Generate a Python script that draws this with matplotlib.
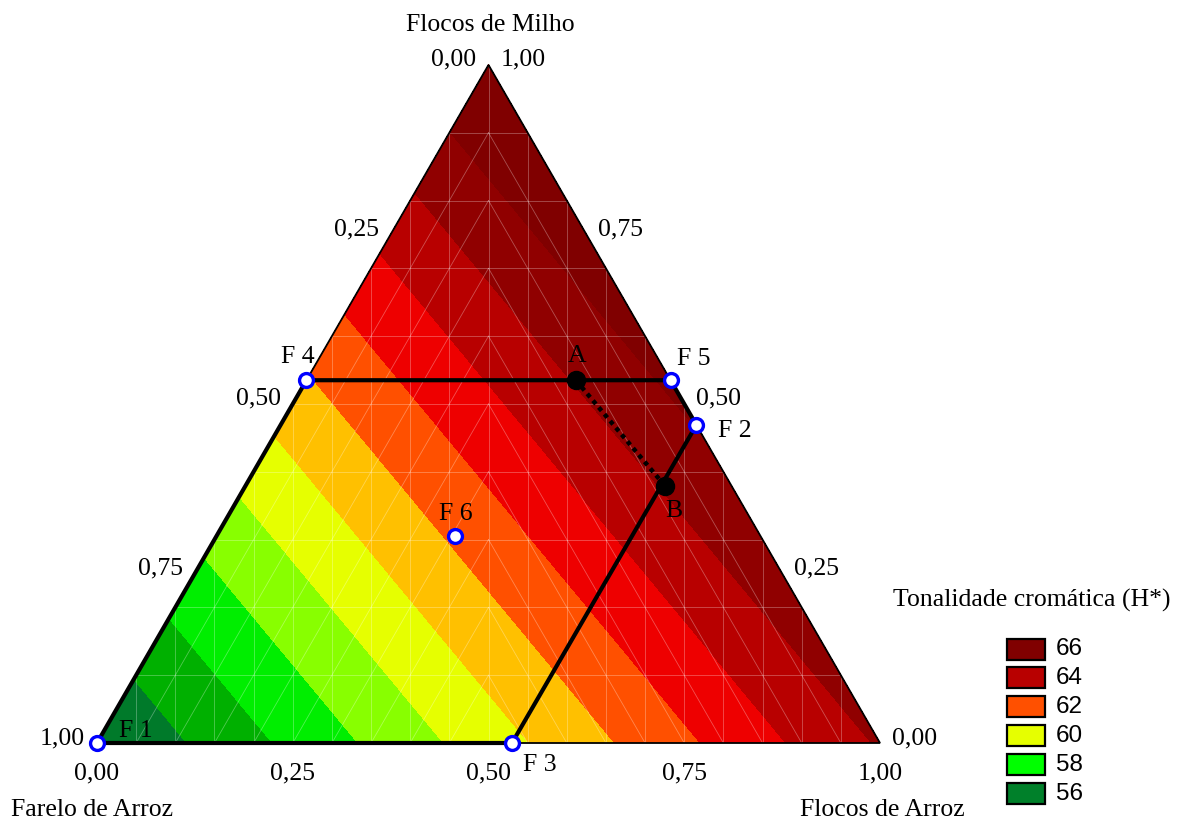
import matplotlib
matplotlib.use('Agg')
import matplotlib.pyplot as plt
import matplotlib.tri as mtri
import numpy as np
from matplotlib.patches import Polygon, Rectangle

# ---------------- data ----------------
# H* values at the pure components (Farelo de Arroz, Flocos de Arroz, Flocos de Milho)
vertex_values = [55.95, 65.10, 67.10]
contour_levels = [55, 57, 58, 59, 60, 61, 62, 63, 64, 65, 66, 68]
band_colors = ['#007A2A', '#00B000', '#00EE00', '#88FF00', '#E6FF00', '#FFC000',
               '#FF5000', '#EE0000', '#B80000', '#900000', '#800000']

legend_values = [66, 64, 62, 60, 58, 56]
legend_colors = ['#800000', '#B80000', '#FF5000', '#E6FF00', '#00FF00', '#00802A']
legend_title = 'Tonalidade cromática (H*)'

tick_values = [0.0, 0.25, 0.50, 0.75, 1.00]
tick_labels = ['0,00', '0,25', '0,50', '0,75', '1,00']

axis_farelo = 'Farelo de Arroz'
axis_flocos_arroz = 'Flocos de Arroz'
axis_flocos_milho = 'Flocos de Milho'

# design points (fractions)
point_names = ['F 1', 'F 2', 'F 3', 'F 4', 'F 5', 'F 6']
point_flocos_arroz = [0.000, 0.531, 0.530, 0.000, 0.465, 0.304]
point_flocos_milho = [0.000, 0.469, 0.000, 0.535, 0.535, 0.306]

# optimum segment points
opt_names = ['A', 'B']
opt_flocos_arroz = [0.344, 0.536]
opt_flocos_milho = [0.535, 0.379]

# experimental region polygon order (indices into design points)
region_order = [0, 3, 4, 1, 2, 0]

# ---------------- geometry helpers ----------------
H = np.sqrt(3) / 2
PX = 783.0  # pixels per unit
X0, Y0 = 97.0, 743.0


def tern(fa, fm):
    fa = np.asarray(fa, float)
    fm = np.asarray(fm, float)
    return fa + fm / 2, fm * H


def dpx(dx, dy):
    return dx / PX, dy / PX


fig = plt.figure(figsize=(11.8, 8.25), dpi=100)
ax = fig.add_axes([0, 0, 1, 1])
ax.set_xlim(-X0 / PX, (1180 - X0) / PX)
ax.set_ylim(-(825 - Y0) / PX, Y0 / PX)
ax.axis('off')

serif = 'Liberation Serif'
sans = 'Liberation Sans'
FS = 18.5

# ---------------- contour surface ----------------
vx, vy = tern([0, 1, 0], [0, 0, 1])
tri = mtri.Triangulation(vx, vy)
ax.tricontourf(tri, vertex_values, levels=contour_levels, colors=band_colors,
               antialiased=False, zorder=1)

tri_patch = Polygon(np.column_stack([vx, vy]), closed=True, fill=False,
                    edgecolor='black', lw=1.3, zorder=5)
ax.add_patch(tri_patch)

# faint white mesh lines
mesh_kw = dict(color='white', lw=0.6, alpha=0.32, zorder=2, clip_path=tri_patch)
for k in range(1, 20):
    x = 0.05 * k
    top = 2 * x * H if x <= 0.5 else 2 * (1 - x) * H
    ax.plot([x, x], [0, top], **mesh_kw)
for j in range(1, 10):
    m = 0.1 * j
    ax.plot([m / 2, 1 - m / 2], [m * H, m * H], **mesh_kw)
for k in range(1, 10):
    c = 0.05 * k
    mmax = 1 - 2 * c
    # left half: constant Flocos de Arroz
    xa, ya = tern([c, c], [0, mmax])
    ax.plot(xa, ya, **mesh_kw)
    # right half: constant Farelo
    xb = [1 - c, 1 - c - mmax / 2]
    yb = [0, mmax * H]
    ax.plot(xb, yb, **mesh_kw)

# ---------------- experimental region ----------------
px_, py_ = tern(point_flocos_arroz, point_flocos_milho)
ax.plot(px_[region_order], py_[region_order], color='black', lw=3.0,
        solid_joinstyle='miter', zorder=6)

ox, oy = tern(opt_flocos_arroz, opt_flocos_milho)
ax.plot(ox, oy, color='black', lw=3.2, linestyle=(0, (1, 1)), zorder=6)
ax.plot(ox, oy, 'o', color='black', ms=13, zorder=7)

ax.plot(px_, py_, 'o', ms=10, mfc='white', mec='#0000FF', mew=2.4, zorder=8)

# point labels (pixel offsets)
pt_off = [(39, 12), (38, -6), (28, -22), (-9, 23), (23, 21), (1, 22)]
for name, x, y, (dx, dy) in zip(point_names, px_, py_, pt_off):
    ox_, oy_ = dpx(dx, dy)
    ax.text(x + ox_, y + oy_, name, fontsize=FS, family=serif,
            ha='center', va='center', zorder=9)
opt_off = [(1, 24), (9, -25)]
for name, x, y, (dx, dy) in zip(opt_names, ox, oy, opt_off):
    ox_, oy_ = dpx(dx, dy)
    ax.text(x + ox_, y + oy_, name, fontsize=FS, family=serif,
            ha='center', va='center', zorder=9)

# ---------------- tick labels ----------------
for v, lab in zip(tick_values, tick_labels):
    # bottom: Flocos de Arroz
    x, y = tern(v, 0)
    ax.text(x, y - 30 / PX, lab, fontsize=FS, family=serif, ha='center', va='center')
    # left: Farelo de Arroz (Farelo = v -> Milho = 1 - v)
    x, y = tern(0, 1 - v)
    ax.text(x - 12 / PX, y + 5 / PX, lab, fontsize=FS, family=serif, ha='right', va='center')
    # right: Flocos de Milho
    x, y = tern(1 - v, v)
    ax.text(x + 12 / PX, y + 5 / PX, lab, fontsize=FS, family=serif, ha='left', va='center')

# axis titles
ax.text((490 - X0) / PX, (Y0 - 25) / PX, axis_flocos_milho, fontsize=FS, family=serif,
        ha='center', va='center')
ax.text((92 - X0) / PX, (Y0 - 810) / PX, axis_farelo, fontsize=FS, family=serif,
        ha='center', va='center')
ax.text((882 - X0) / PX, (Y0 - 810) / PX, axis_flocos_arroz, fontsize=FS, family=serif,
        ha='center', va='center')

# ---------------- legend ----------------
ax.text((1032 - X0) / PX, (Y0 - 600) / PX, legend_title, fontsize=FS, family=serif,
        ha='center', va='center')
row_y = 649.0
for i, (val, col) in enumerate(zip(legend_values, legend_colors)):
    cy = row_y + i * 28.9
    ax.add_patch(Rectangle(((1007 - X0) / PX, (Y0 - cy - 10.5) / PX), 38 / PX, 21 / PX,
                           facecolor=col, edgecolor='black', lw=1.6, zorder=5))
    ax.text((1056 - X0) / PX, (Y0 - cy) / PX, str(val), fontsize=17.5, family=sans,
            ha='left', va='center')

fig.savefig('out.png', dpi=100)
